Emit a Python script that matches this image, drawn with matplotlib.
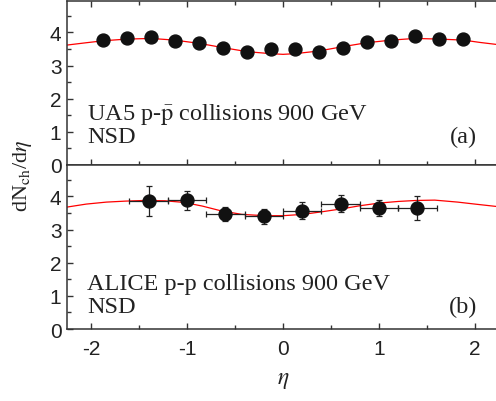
import matplotlib
matplotlib.use("Agg")
import matplotlib.pyplot as plt
from matplotlib.ticker import MultipleLocator

plt.rcParams['mathtext.fontset'] = 'stix'
plt.rcParams['font.family'] = ['Liberation Serif', 'DejaVu Serif']
plt.rcParams['axes.unicode_minus'] = False

# UA5 p-pbar 900 GeV NSD
ua5_eta = [-1.875, -1.625, -1.375, -1.125, -0.875, -0.625, -0.375, -0.125,
           0.125, 0.375, 0.625, 0.875, 1.125, 1.375, 1.625, 1.875]
ua5_dn = [3.77, 3.82, 3.87, 3.74, 3.69, 3.52, 3.41, 3.49,
          3.49, 3.41, 3.54, 3.72, 3.74, 3.88, 3.80, 3.79]

# ALICE p-p 900 GeV NSD
alice_eta = [-1.4, -1.0, -0.6, -0.2, 0.2, 0.6, 1.0, 1.4]
alice_dn = [3.87, 3.88, 3.47, 3.40, 3.57, 3.78, 3.65, 3.65]
alice_yerr = [0.45, 0.30, 0.22, 0.22, 0.25, 0.25, 0.25, 0.35]
alice_xerr = [0.2, 0.2, 0.2, 0.2, 0.2, 0.2, 0.2, 0.2]

# model curves
curve_a_eta = [-2.25, -2.05, -1.87, -1.63, -1.375, -1.13, -0.87, -0.62, -0.37, -0.125, 0.0,
               0.125, 0.37, 0.62, 0.87, 1.13, 1.375, 1.63, 1.88, 2.05, 2.25]
curve_a_dn = [3.62, 3.69, 3.75, 3.80, 3.82, 3.77, 3.67, 3.54, 3.42, 3.36, 3.34,
              3.36, 3.44, 3.57, 3.69, 3.77, 3.82, 3.80, 3.77, 3.70, 3.63]
curve_b_eta = [-2.25, -2.05, -1.84, -1.64, -1.44, -1.23, -1.03, -0.84, -0.65, -0.43,
               -0.19, 0.0, 0.21, 0.41, 0.62, 0.80, 1.0, 1.2, 1.39, 1.58, 1.82, 2.0, 2.25]
curve_b_dn = [3.68, 3.77, 3.83, 3.86, 3.88, 3.87, 3.82, 3.71, 3.57, 3.46,
              3.42, 3.42, 3.46, 3.54, 3.63, 3.72, 3.80, 3.85, 3.88, 3.89, 3.83, 3.77, 3.69]

xticks = [-2, -1, 0, 1, 2]
yticks = [0, 1, 2, 3, 4]

W, H = 496, 402
fig = plt.figure(figsize=(W / 100, H / 100), dpi=100)
left = 67 / W
width = 432 / W
ax1 = fig.add_axes([left, 1 - 166 / H, width, 164 / H])
ax2 = fig.add_axes([left, 1 - 330 / H, width, 164 / H])

spine_col = '#333333'
for ax in (ax1, ax2):
    ax.set_xlim(-2.25, 2.25)
    ax.set_ylim(0, 4.95)
    ax.set_xticks(xticks)
    ax.set_yticks(yticks)
    ax.xaxis.set_minor_locator(MultipleLocator(0.5))
    ax.yaxis.set_minor_locator(MultipleLocator(0.5))
    for s in ax.spines.values():
        s.set_color(spine_col)
        s.set_linewidth(1.1)
    ax.tick_params(which='both', direction='in', color=spine_col, width=1.0,
                   labelfontfamily='Liberation Sans', labelsize=15, labelcolor='#222222')
    ax.tick_params(which='major', length=4.5)
    ax.tick_params(which='minor', length=3)
    ax.tick_params(axis='y', which='both', left=True, right=False, pad=4)
    ax.tick_params(axis='x', pad=7)

ax1.tick_params(axis='x', which='both', top=True, bottom=True, labelbottom=False)
ax2.tick_params(axis='x', which='both', top=False, bottom=True)

fs = 17.5
# top panel
ax1.plot(curve_a_eta, curve_a_dn, color='#ff0000', lw=0.9, zorder=2)
ax1.plot(ua5_eta, ua5_dn, 'o', color='#111111', ms=9.3, zorder=3)
ax1.text(-2.04, 1.39, r'UA5 p-$\bar{\mathrm{p}}$ collisions 900 GeV', fontsize=fs,
         ha='left', va='baseline', color='#222222')
ax1.text(-2.04, 0.69, 'NSD', fontsize=fs, ha='left', va='baseline', color='#222222')
ax1.text(2.02, 0.69, '(a)', fontsize=fs, ha='right', va='baseline', color='#222222')

# bottom panel
ax2.plot(curve_b_eta, curve_b_dn, color='#ff0000', lw=0.9, zorder=2)
ax2.errorbar(alice_eta, alice_dn, yerr=alice_yerr, xerr=alice_xerr, fmt='o',
             color='#111111', ms=9.3, elinewidth=0.9, capsize=2.5, capthick=0.9,
             ecolor='#222222', zorder=3)
ax2.text(-2.04, 1.2, 'ALICE p-p collisions 900 GeV', fontsize=fs,
         ha='left', va='baseline', color='#222222')
ax2.text(-2.04, 0.52, 'NSD', fontsize=fs, ha='left', va='baseline', color='#222222')
ax2.text(2.02, 0.52, '(b)', fontsize=fs, ha='right', va='baseline', color='#222222')

ax2.set_xlabel(r'$\eta$', fontsize=17, labelpad=8, color='#222222')
fig.text(22 / W, 1 - 176 / H, r'dN$_{\mathrm{ch}}$/d$\eta$', rotation=90,
         fontsize=16, ha='center', va='center', color='#222222')

fig.savefig('out.png', dpi=100)
